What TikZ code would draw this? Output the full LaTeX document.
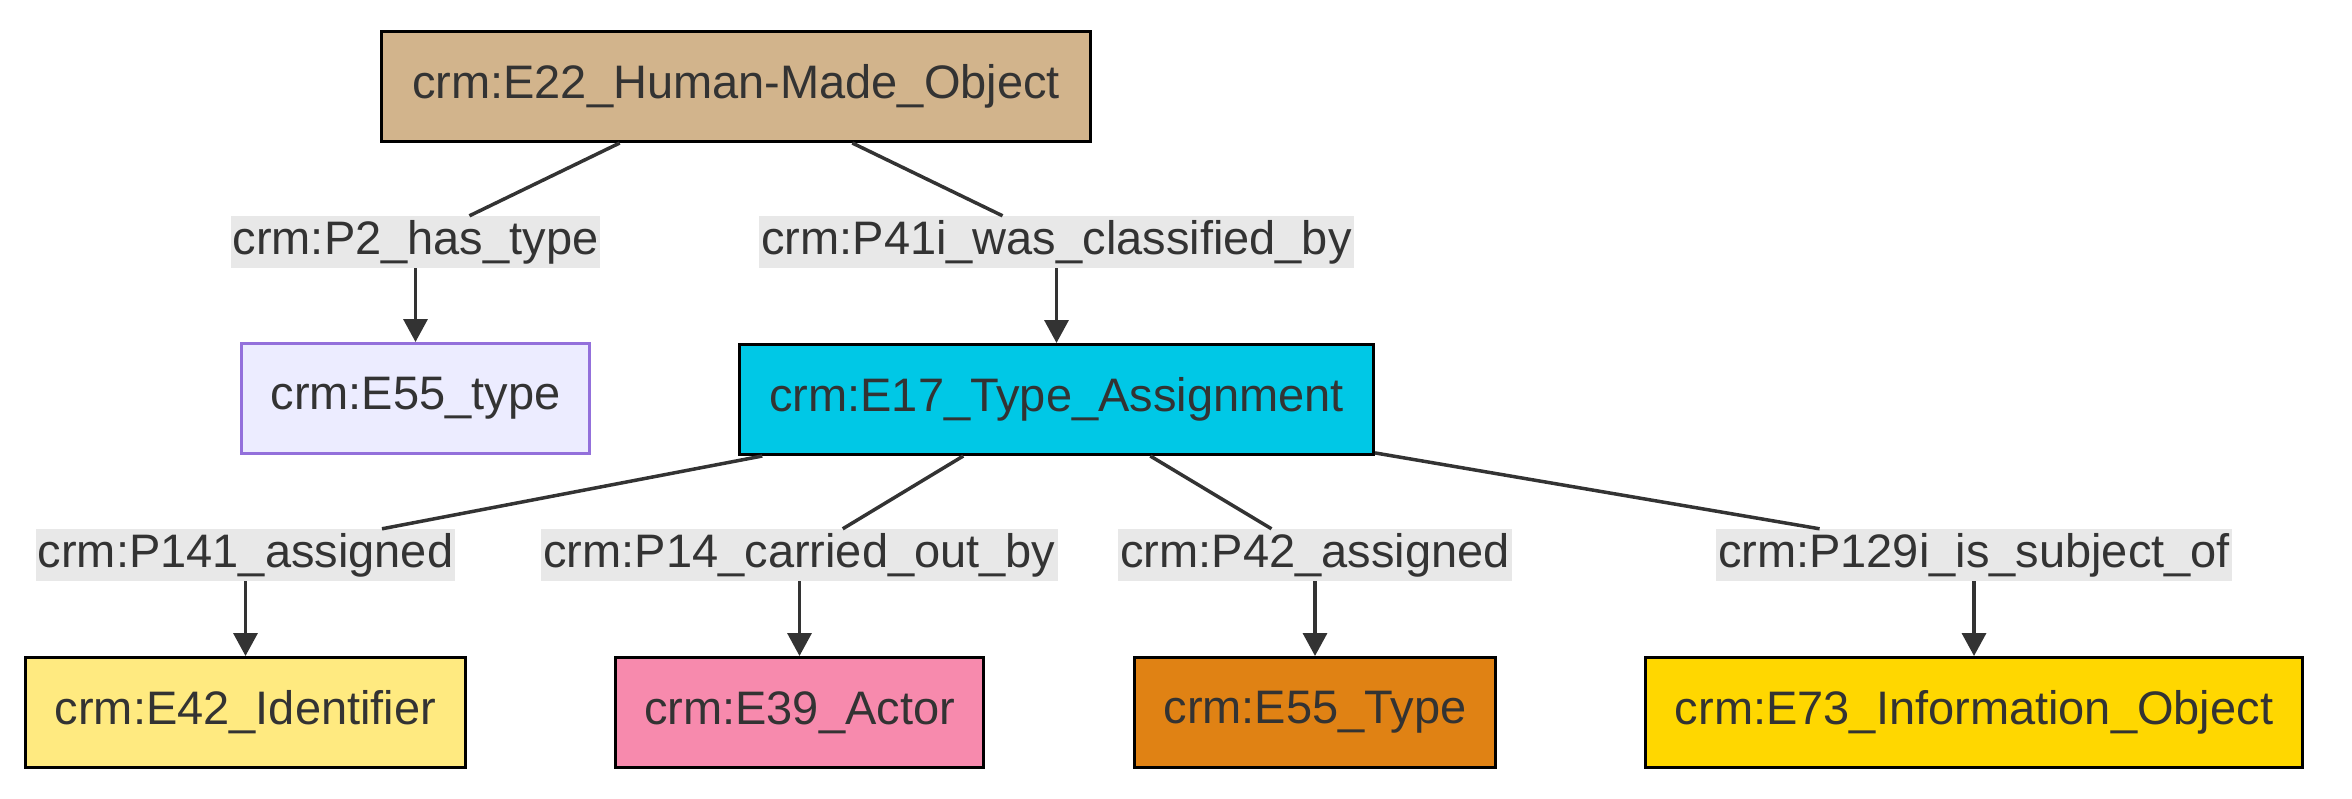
\documentclass[tikz,border=0pt]{standalone}
\usepackage{fontspec}
\setmainfont{Liberation Sans}
\usetikzlibrary{arrows.meta}
\definecolor{txtC}{HTML}{333333}
\definecolor{lblC}{HTML}{E8E8E8}
\definecolor{objC}{HTML}{D2B48C}
\definecolor{typeC}{HTML}{ECECFF}
\definecolor{typeB}{HTML}{9370DB}
\definecolor{assignC}{HTML}{00C8E6}
\definecolor{identC}{HTML}{FFEA80}
\definecolor{actorC}{HTML}{F78AAD}
\definecolor{ctypeC}{HTML}{E08214}
\definecolor{infoC}{HTML}{FFD700}

\begin{document}
\begin{tikzpicture}[x=1pt, y=-1pt,
  every node/.style={font=\fontsize{47}{56}\selectfont, text=txtC},
  cls/.style={draw=black, line width=3pt, minimum height=110pt, inner sep=0pt},
  prop/.style={fill=lblC, inner xsep=2pt, inner ysep=3.5pt, text height=35pt, text depth=10pt},
  link/.style={draw=txtC, line width=3.5pt},
  arr/.style={link, -{Triangle[length=23pt, width=24pt]}}]
\useasboundingbox (0,0) rectangle (2352,798);
% class boxes
\node[cls, fill=objC, minimum width=709pt] (e22) at (736,86.5) {crm:E22\_Human-Made\_Object};
\node[cls, draw=typeB, fill=typeC, minimum width=348pt] (e55a) at (415.5,398.5) {crm:E55\_type};
\node[cls, fill=assignC, minimum width=634pt] (e17) at (1056.5,399.5) {crm:E17\_Type\_Assignment};
\node[cls, fill=identC, minimum width=440pt] (e42) at (245.5,712.5) {crm:E42\_Identifier};
\node[cls, fill=actorC, minimum width=368pt] (e39) at (799.5,712.5) {crm:E39\_Actor};
\node[cls, fill=ctypeC, minimum width=361pt] (e55b) at (1315,712.5) {crm:E55\_Type};
\node[cls, fill=infoC, minimum width=657pt] (e73) at (1974,712.5) {crm:E73\_Information\_Object};
% property labels
\node[prop] (p2) at (415.5,242) {crm:P2\_has\_type};
\node[prop] (p41i) at (1056.5,242) {crm:P41i\_was\_classified\_by};
\node[prop] (p141) at (245.5,555) {crm:P141\_assigned};
\node[prop] (p14) at (799.5,555) {crm:P14\_carried\_out\_by};
\node[prop] (p42) at (1315,555) {crm:P42\_assigned};
\node[prop] (p129i) at (1974,555) {crm:P129i\_is\_subject\_of};
% edges
\draw[link] (e22) -- (p2);
\draw[arr] (p2) -- (e55a);
\draw[link] (e22) -- (p41i);
\draw[arr] (p41i) -- (e17);
\draw[link] (e17) -- (p141);
\draw[arr] (p141) -- (e42);
\draw[link] (e17) -- (p14);
\draw[arr] (p14) -- (e39);
\draw[link] (e17) -- (p42);
\draw[arr] (p42) -- (e55b);
\draw[link] (e17) -- (p129i);
\draw[arr] (p129i) -- (e73);
\end{tikzpicture}
\end{document}
